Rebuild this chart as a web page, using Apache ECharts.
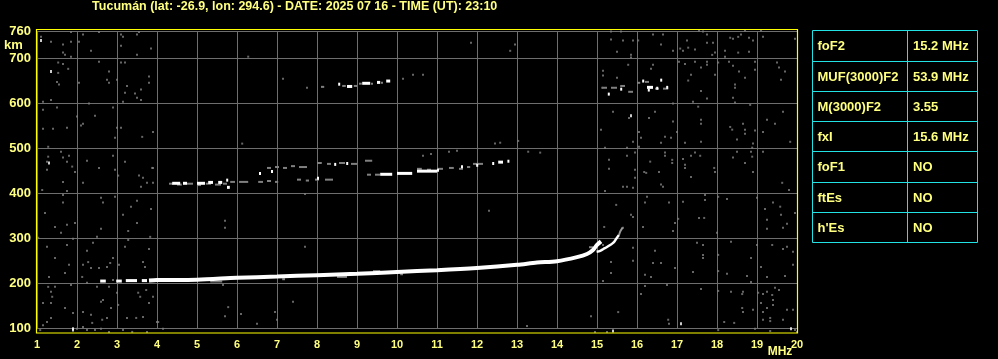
<!DOCTYPE html>
<html><head><meta charset="utf-8">
<script src="https://cdn.jsdelivr.net/npm/echarts@6/dist/echarts.min.js"></script>
<style>html,body{margin:0;padding:0;background:#000;}#c{width:998px;height:359px;}</style>
</head><body><div id="c"></div>
<script>
// ---------- DATA ----------
const titleText = 'Tucumán (lat: -26.9, lon: 294.6) - DATE: 2025 07 16 - TIME (UT): 23:10';
const tableParams = ['foF2', 'MUF(3000)F2', 'M(3000)F2', 'fxI', 'foF1', 'ftEs', "h'Es"];
const tableValues = ['15.2 MHz', '53.9 MHz', '3.55', '15.6 MHz', 'NO', 'NO', 'NO'];

// O-mode F2 trace (MHz, km)
const oTraceF = [3.8, 4.0, 5.0, 6.0, 7.0, 8.0, 9.0, 10.0, 11.0, 12.0, 13.0, 13.5, 14.0, 14.5, 14.75, 14.9, 15.0, 15.1];
const oTraceH = [206, 207, 208, 212, 215, 218, 221, 225, 229, 234, 241, 246, 249, 258, 265, 274, 285, 293];
// X-mode trace
const xTraceF = [14.99, 15.08, 15.16, 15.24, 15.33, 15.41, 15.49, 15.55];
const xTraceH = [270, 272, 276, 280, 285, 290, 300, 307];
const xTraceGreyF = [15.55, 15.58, 15.64];
const xTraceGreyH = [307, 315, 324];

// echo fragments [fStart, fEnd, km]
const whiteSegs = [
  [2.58,2.72,206],[2.98,3.12,206],[3.22,3.5,207],[3.62,3.75,207],
  [4.38,4.58,423],[4.65,4.75,423],[5.0,5.2,423],[5.28,5.4,425],[5.53,5.63,425],[5.73,5.78,430],[5.75,5.82,414],
  [6.55,6.6,445],[6.85,6.9,449],[8.0,8.05,434],[8.43,8.48,465],[8.73,8.78,467],[9.58,9.88,443],[10.0,10.38,445],
  [10.5,11.0,450],[11.0,11.05,452],[11.6,11.65,460],[11.98,12.03,463],[12.38,12.42,467],[12.53,12.65,470],[12.76,12.8,472],
  [8.53,8.58,643],[8.75,8.88,638],[9.13,9.33,645],[9.5,9.58,647],[9.73,9.83,650],
  [15.27,15.3,621],[15.58,15.62,632],[16.13,16.17,650],[16.25,16.4,636],[16.27,16.3,630],[16.48,16.52,634],[16.58,16.62,652],[16.73,16.77,636]
];
const greySegs = [
  [4.3,4.4,421],[4.5,4.62,419],[4.75,4.9,421],[5.0,5.1,418],[5.22,5.35,421],[5.45,5.6,419],[5.65,5.75,421],
  [5.83,5.95,425],[6.05,6.28,425],[6.53,6.65,425],[6.75,6.85,427],[6.95,7.03,425],
  [6.75,6.85,456],[6.95,7.05,458],[7.15,7.25,456],[7.35,7.45,460],[7.55,7.75,458],
  [8.0,8.12,467],[8.25,8.35,465],[8.55,8.7,467],[8.85,9.0,465],[9.2,9.38,472],
  [7.5,7.6,430],[7.72,7.8,428],[7.95,8.05,430],[8.2,8.4,430],[9.25,9.35,441],[9.45,9.58,441],
  [10.5,10.62,454],[10.75,10.85,452],[11.0,11.15,454],[11.3,11.42,456],[11.55,11.65,454],[11.75,11.83,458],[11.9,12.15,465],
  [8.1,8.18,636],[8.63,8.72,638],[8.92,9.0,638],[9.05,9.12,643],[9.35,9.4,643],[9.6,9.65,645],
  [15.13,15.25,634],[15.35,15.5,634],[15.58,15.7,638],[15.78,15.9,625],[16.0,16.08,645],[16.2,16.3,647],[16.45,16.55,632],[16.65,16.78,632],
  [5.33,5.63,204],[7.13,7.2,209],[8.5,8.75,214],[9.4,9.58,227],[10.08,10.15,220],[14.8,14.9,280]
];

// scattered noise (MHz, km)
const noiseGrey = [
  [1.28,503],[1.28,481],[1.25,470],[1.25,452],[1.6,492],[1.65,479],[1.8,483],[1.75,470],[1.88,459],[1.95,447],
  [2.25,472],[2.55,456],[2.9,483],[2.95,452],[3.03,439],[3.2,470],[3.55,439],[3.65,434],[3.9,456],[3.75,423],
  [3.6,414],[2.15,423],[1.65,425],[1.13,407],[1.75,405],[2.6,390],[2.65,379],[1.65,396],[1.65,379],[1.2,356],
  [1.45,325],[1.6,312],[1.75,330],[1.95,334],[2.6,321],[2.5,303],[2.95,392],[3.15,352],[3.35,370],[3.5,383],
  [3.85,365],[3.28,316],[3.5,334],[3.83,303],[1.03,301],[1.25,281],[1.75,285],[1.9,299],[2.4,290],[2.25,272],
  [1.45,256],[1.8,241],[1.7,223],[2.15,241],[2.28,247],[2.35,234],[2.55,234],[2.75,236],[2.9,256],[2.83,245],
  [3.05,241],[3.2,281],[3.28,296],[3.65,247],[3.7,236],[3.8,276],[2.13,214],[1.3,214],[2.25,201],[2.5,192],
  [2.8,192],[2.9,207],[3.0,179],[1.28,192],[1.45,192],[1.35,181],[1.38,170],[1.85,196],[1.15,156],[1.35,156],
  [1.7,145],[1.9,134],[2.15,136],[2.35,130],[2.6,159],[2.65,163],[2.85,145],[2.75,123],[2.63,119],[3.03,152],
  [3.25,123],[3.53,179],[3.58,170],[3.73,185],[3.9,170],[3.8,156],[3.48,123],[3.65,125],[4.03,114],[1.15,107],
  [1.25,114],[1.35,123],[2.0,99],[2.15,103],[2.25,96],[2.38,112],[2.45,96],[2.6,99],[2.8,92],[3.15,96],
  [3.38,92],[3.75,92],[4.15,99],[1.08,96],
  [1.1,747],[1.35,736],[1.65,712],[1.65,687],[1.65,730],[1.85,758],[1.85,736],[1.78,676],[1.7,707],[1.85,703],
  [2.15,752],[2.35,716],[2.55,758],[2.05,736],[3.1,752],[3.15,747],[3.1,727],[3.5,752],[3.5,707],[3.55,758],
  [3.85,721],[1.53,690],[1.53,667],[1.5,647],[1.55,641],[2.05,645],[2.55,692],[2.8,670],[2.75,652],[2.8,645],
  [3.0,652],[3.1,690],[3.2,690],[3.25,638],[3.45,621],[3.5,612],[3.6,630],[3.6,607],[3.8,659],[3.8,645],
  [3.2,623],[3.15,603],[1.15,603],[1.35,607],[1.15,585],[1.5,590],[2.3,599],[2.45,572],[2.9,590],[2.0,570],
  [2.15,554],[2.1,550],[1.15,543],[1.4,543],[1.75,545],[3.0,545],[3.1,545],[3.9,536],[3.63,525],[2.95,523],
  [15.35,759],[15.6,759],[15.35,741],[15.65,739],[15.9,739],[16.03,739],[16.4,752],[16.6,730],[16.65,752],[16.9,716],
  [17.08,721],[17.15,716],[17.25,739],[17.28,723],[17.45,719],[17.55,761],[17.65,759],[17.75,752],[17.75,734],[17.9,734],
  [17.95,712],[17.88,707],[18.2,716],[18.33,745],[18.4,743],[18.53,747],[18.6,752],[18.7,761],[18.8,745],[18.9,739],
  [19.1,761],[19.15,747],[18.53,712],[18.8,714],[18.2,703],[19.95,743],[15.85,707],[15.85,701],[15.5,714],[17.05,692],
  [17.2,687],[17.45,692],[17.6,679],[17.75,692],[17.75,685],[17.35,663],[17.28,650],[17.6,627],[17.95,663],[18.03,690],
  [18.3,692],[18.4,683],[18.55,670],[18.7,656],[18.95,692],[18.95,674],[19.5,690],[19.55,679],[19.7,670],[19.6,652],
  [18.45,641],[18.45,634],[18.4,612],[18.45,601],[15.15,672],[15.15,661],[15.5,656],[15.78,685],[16.35,676],[16.4,685],
  [15.13,634],[15.1,541],[15.4,581],[15.8,567],[15.9,514],[16.1,523],[16.05,536],[16.3,567],[16.45,581],[16.6,512],
  [16.7,525],[16.85,523],[16.9,559],[16.9,599],[17.0,536],[17.2,512],[17.4,603],[17.53,592],[17.6,563],[17.6,554],
  [17.6,514],[17.75,610],[18.33,547],[18.38,541],[18.5,519],[18.65,554],[18.7,541],[18.7,532],[18.83,596],[18.95,539],
  [19.15,536],[19.25,563],[19.45,554],[19.65,581],[19.83,514],[18.9,510],[18.88,501],[15.2,501],[15.75,501],[15.75,483],
  [15.95,490],[16.05,503],[15.3,474],[15.3,454],[15.95,452],[15.95,434],[15.9,412],[15.75,414],[16.18,447],[16.23,445],
  [16.33,470],[16.55,447],[16.7,490],[16.7,483],[16.88,474],[16.88,467],[16.6,419],[16.65,414],[17.15,476],[17.2,463],
  [17.2,456],[17.35,483],[17.35,436],[17.45,490],[17.58,483],[17.93,456],[17.95,447],[18.4,479],[18.5,492],[18.7,467],
  [18.85,492],[18.88,481],[18.9,447],[19.15,492],[19.63,423],[19.8,407],[15.2,405],[15.65,414],[15.48,374],[15.85,352],
  [15.9,347],[16.15,325],[16.25,392],[16.2,379],[16.8,379],[16.9,316],[16.95,334],[17.03,343],[17.15,381],[17.55,345],
  [17.68,345],[17.7,396],[17.7,385],[18.0,312],[18.03,392],[18.25,387],[19.0,390],[19.2,365],[19.4,379],[19.25,341],
  [19.25,321],[19.58,370],[19.6,352],[19.75,332],[19.65,323],[19.95,356],[15.65,323],[15.15,285],[15.35,247],[15.35,223],
  [15.9,250],[15.9,279],[16.45,272],[16.4,245],[16.6,245],[16.2,219],[16.35,214],[16.95,234],[17.4,225],[17.5,290],
  [17.65,285],[17.65,263],[17.65,256],[18.03,263],[18.03,227],[18.35,292],[18.25,221],[18.75,216],[18.85,256],[19.0,285],
  [19.1,236],[19.25,214],[19.38,285],[19.65,276],[19.75,281],[19.9,270],[19.9,241],[19.7,216],[15.15,205],[16.2,194],
  [16.1,176],[16.75,196],[17.6,187],[18.03,183],[18.35,181],[18.63,176],[18.65,181],[18.85,203],[19.03,179],[19.15,176],
  [19.25,181],[19.38,174],[19.4,163],[19.45,190],[19.55,185],[19.4,152],[19.1,156],[19.25,145],[19.15,136],[18.63,145],
  [18.65,136],[18.9,141],[19.15,119],[19.33,116],[19.33,123],[19.65,119],[19.75,141],[19.9,141],[20.0,92],[15.53,136],
  [16.78,119],[16.8,110],[18.18,114],[18.43,112],[14.95,92],[15.25,92],[18.03,96],[18.95,99],[19.33,94],[19.95,96],
  [4.0,114],[5.7,127],[5.78,147],[6.1,132],[6.5,110],[6.95,136],[7.0,119],[7.4,159],[13.25,105],[14.85,127],
  [12.3,361],[15.18,325],[5.7,339],[5.7,323],[7.7,281],[5.65,196],[7.15,654],[7.75,634],[10.15,654],[10.4,663],
  [10.65,663],[6.28,703],[11.85,734],[12.83,716],[12.95,730],[6.13,510],[12.45,510],[12.58,512],[13.03,516],[13.28,492],
  [13.58,490],[11.5,494],[11.3,492],[10.65,483],[10.85,487],[7.7,398],[3.9,423],[3.88,456]
];
const noiseWhite = [[1.3,467],[1.9,99],[1.9,96],[1.1,739],[1.35,670],[15.85,572],[19.85,99],[17.1,110],[15.4,94]];

// ---------- CHART ----------
const chart = echarts.init(document.getElementById('c'));
const YEL = '#ffff80';
const CYAN = '#22e2e6';
const FONT = "'Liberation Sans Narrow','Liberation Sans',Arial,sans-serif";

function segSeries(data, color, h) {
  return {
    type: 'custom', clip: false, silent: true, data: data,
    renderItem: function (params, api) {
      const p1 = api.coord([api.value(0), api.value(2)]);
      const p2 = api.coord([api.value(1), api.value(2)]);
      return { type: 'rect', shape: { x: p1[0], y: p1[1] - 1, width: Math.max(p2[0] - p1[0], 2), height: h },
        style: { fill: color } };
    }
  };
}

const graphics = [];
graphics.push({ type: 'text', style: { text: titleText, x: 294.7, y: 7, fill: YEL, font: 'bold 12.5px ' + FONT, align: 'center', verticalAlign: 'middle' } });
graphics.push({ type: 'text', style: { text: 'km', x: 13.5, y: 45, fill: YEL, font: 'bold 13px ' + FONT, align: 'center', verticalAlign: 'middle' } });
graphics.push({ type: 'text', style: { text: 'MHz', x: 780, y: 351.5, fill: YEL, font: 'bold 12px ' + FONT, align: 'center', verticalAlign: 'middle' } });
graphics.push({ type: 'rect', shape: { x: 36.5, y: 29.5, width: 761, height: 303.5 }, style: { fill: 'none', stroke: '#ffff00', lineWidth: 1.2 }, z: 10 });

// table
const rowB = [30.5, 61.5, 91.5, 121.5, 151.5, 182.5, 212.5, 242.5];
const tL = 812.5, tR = 977.5, tM = 907.5;
graphics.push({ type: 'rect', shape: { x: tL, y: rowB[0], width: tR - tL, height: rowB[7] - rowB[0] }, style: { fill: 'none', stroke: CYAN, lineWidth: 1 } });
graphics.push({ type: 'line', shape: { x1: tM, y1: rowB[0], x2: tM, y2: rowB[7] }, style: { stroke: CYAN, lineWidth: 1 } });
for (let i = 1; i < 7; i++) {
  graphics.push({ type: 'line', shape: { x1: tL, y1: rowB[i], x2: tR, y2: rowB[i] }, style: { stroke: CYAN, lineWidth: 1 } });
}
for (let i = 0; i < 7; i++) {
  const cy = (rowB[i] + rowB[i + 1]) / 2 + 0.5;
  graphics.push({ type: 'text', style: { text: tableParams[i], x: 817.5, y: cy, fill: YEL, font: 'bold 13px ' + FONT, verticalAlign: 'middle' } });
  graphics.push({ type: 'text', style: { text: tableValues[i], x: 913, y: cy, fill: YEL, font: 'bold 13px ' + FONT, verticalAlign: 'middle' } });
}

chart.setOption({
  backgroundColor: '#000',
  animation: false,
  grid: { left: 37, right: 201, top: 31, bottom: 30.7, containLabel: false },
  xAxis: {
    type: 'value', min: 1, max: 20, interval: 1,
    axisLine: { show: false }, axisTick: { show: false },
    splitLine: { show: true, lineStyle: { color: '#6e6e6e', width: 1 } },
    axisLabel: { color: YEL, fontWeight: 'bold', fontSize: 11, fontFamily: FONT, margin: 11 }
  },
  yAxis: {
    type: 'value', min: 100, max: 760, interval: 100,
    axisLine: { show: false }, axisTick: { show: false },
    splitLine: { show: true, lineStyle: { color: '#6e6e6e', width: 1 } },
    axisLabel: { color: YEL, fontWeight: 'bold', fontSize: 13, fontFamily: FONT, margin: 6, showMaxLabel: true }
  },
  graphic: graphics,
  series: [
    { type: 'scatter', clip: false, silent: true, symbol: 'rect', symbolSize: [2, 2], itemStyle: { color: '#808080' }, data: noiseGrey },
    segSeries(greySegs, '#808080', 2),
    { type: 'scatter', clip: false, silent: true, symbol: 'rect', symbolSize: [2, 3], itemStyle: { color: '#ffffff' }, data: noiseWhite },
    segSeries(whiteSegs, '#ffffff', 3),
    { type: 'line', clip: false, silent: true, showSymbol: false, smooth: 0.3,
      data: oTraceF.map((f, i) => [f, oTraceH[i]]), lineStyle: { color: '#ffffff', width: 4 } },
    { type: 'line', clip: false, silent: true, showSymbol: false, smooth: 0.3,
      data: xTraceF.map((f, i) => [f, xTraceH[i]]), lineStyle: { color: '#ffffff', width: 2.5 } },
    { type: 'line', clip: false, silent: true, showSymbol: false,
      data: xTraceGreyF.map((f, i) => [f, xTraceGreyH[i]]), lineStyle: { color: '#9a9a9a', width: 2 } }
  ]
});
</script></body></html>
